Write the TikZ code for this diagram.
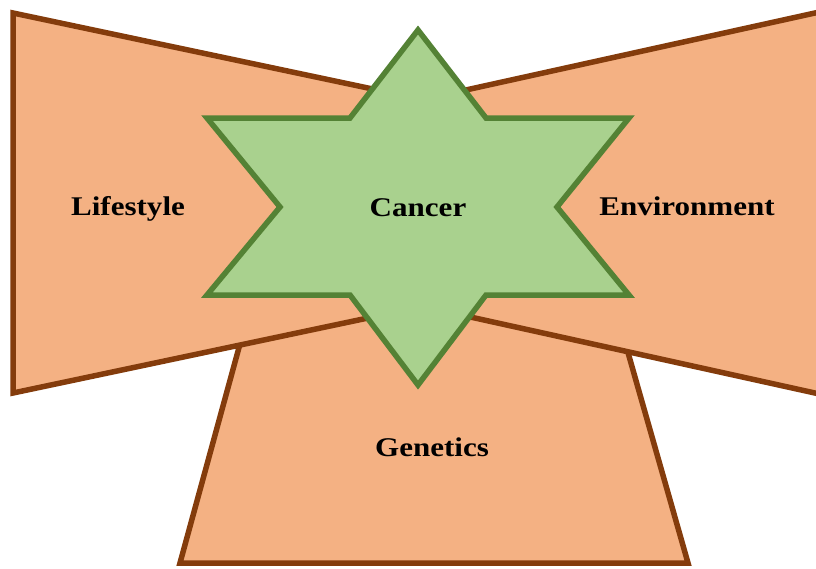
\documentclass[tikz,border=0pt]{standalone}
\usepackage{fontspec}
\usepackage{xcolor}
\usepackage{tikz}
\newfontfamily\etiqfont[FakeStretch=1.15]{Liberation Serif}
\definecolor{brun}{HTML}{843C0C}
\definecolor{saumon}{HTML}{F4B183}
\definecolor{vert}{HTML}{548235}
\definecolor{vertclair}{HTML}{A9D18E}

\begin{document}
\begin{tikzpicture}[x=1pt, y=-1pt,
    bloc/.style={fill=saumon, draw=brun, line width=5.5pt},
    etoile/.style={fill=vertclair, draw=vert, line width=5.5pt},
    etiq/.style={font=\etiqfont\bfseries\fontsize{27}{30}\selectfont, text=black}]
    \useasboundingbox (0,0) rectangle (816,568);
    % les trois facteurs
    \filldraw[bloc] (252,300) -- (613,300) -- (688,563) -- (180,563) -- cycle;
    \filldraw[bloc] (13,13) -- (420,99) -- (420,307) -- (13,393) -- cycle;
    \filldraw[bloc] (824,11) -- (416,101) -- (416,305) -- (824,395) -- cycle;
    % etoile centrale
    \filldraw[etoile] (418,30) -- (486,118) -- (629,118) -- (557,207) -- (629,295)
      -- (486,295) -- (418,385) -- (350,295) -- (207,295) -- (280,207)
      -- (207,118) -- (350,118) -- cycle;
    \node[etiq] (lifestyle) at (128,209) {Lifestyle};
    \node[etiq] (cancer) at (418,208) {Cancer};
    \node[etiq] (environment) at (687,206) {Environment};
    \node[etiq] (genetics) at (432,447) {Genetics};
  \end{tikzpicture}
\end{document}
